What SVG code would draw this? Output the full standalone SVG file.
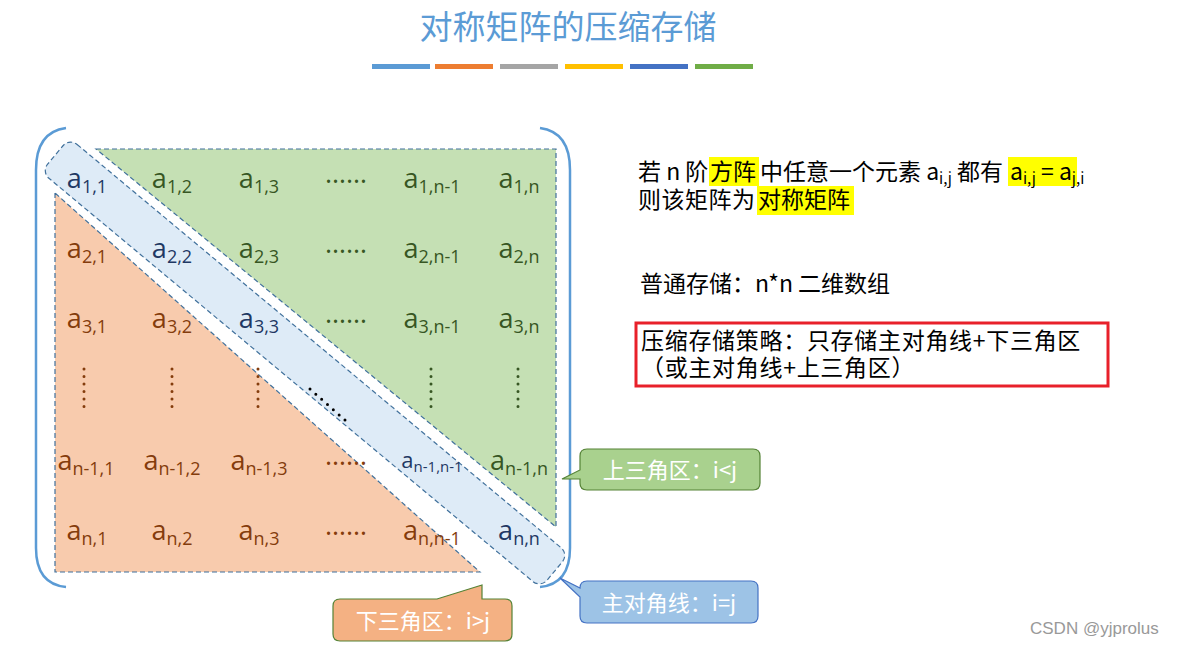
<svg xmlns="http://www.w3.org/2000/svg" width="1180" height="647" viewBox="0 0 1180 647">
<style>
.f{font-family:"Open Sans","Noto Sans","Noto Sans CJK SC",sans-serif}
.k{font-family:"Noto Sans CJK SC",sans-serif}
.m{font-size:27px;text-anchor:middle}
.g{fill:#375623}.o{fill:#843c0c}.b{fill:#1f3864}
.s{font-size:18px}
.t{font-size:23px;fill:#000}
.c{font-size:22px;fill:#fff;font-family:"Noto Sans CJK SC",sans-serif}
.dash{stroke:#41719c;stroke-width:1.2;stroke-dasharray:5 3}
</style>
<rect width="1180" height="647" fill="#fff"/>
<text x="568" y="39" class="k" font-size="33" fill="#5b9bd5" text-anchor="middle">对称矩阵的压缩存储</text>
<g id="bars">
<rect x="372" y="64" width="58" height="5" fill="#5b9bd5"/><rect x="435" y="64" width="58" height="5" fill="#ed7d31"/><rect x="500" y="64" width="58" height="5" fill="#a5a5a5"/><rect x="565" y="64" width="58" height="5" fill="#ffc000"/><rect x="630" y="64" width="58" height="5" fill="#4472c4"/><rect x="695" y="64" width="58" height="5" fill="#70ad47"/>
</g>
<g id="upper"><polygon points="96,149 556,149 556,527" fill="#c5e0b4" class="dash"/></g>
<g id="lower"><polygon points="55,193 55,572 480,572" fill="#f8cbad" class="dash"/></g>
<g id="diag"><rect x="-325" y="-22" width="650" height="44" rx="10" transform="translate(305,363) rotate(39.8)" fill="#deebf7" class="dash"/></g>
<g id="brackets" fill="none" stroke="#5b9bd5" stroke-width="2.5">
<path d="M66,128 Q36,132 36,170 L36,548 Q36,584 66,587"/>
<path d="M540,128 Q570,132 570,170 L570,548 Q570,584 540,587"/>
</g>
<g id="cells" class="f">
<text x="87" y="188" class="m b">a<tspan class="s" dy="5">1,1</tspan></text>
<text x="172" y="188" class="m g">a<tspan class="s" dy="5">1,2</tspan></text>
<text x="259" y="188" class="m g">a<tspan class="s" dy="5">1,3</tspan></text>
<text x="346" y="183" class="m g" font-size="22">……</text>
<text x="432" y="188" class="m g">a<tspan class="s" dy="5">1,n-1</tspan></text>
<text x="519" y="188" class="m g">a<tspan class="s" dy="5">1,n</tspan></text>
<text x="87" y="258" class="m o">a<tspan class="s" dy="5">2,1</tspan></text>
<text x="172" y="258" class="m b">a<tspan class="s" dy="5">2,2</tspan></text>
<text x="259" y="258" class="m g">a<tspan class="s" dy="5">2,3</tspan></text>
<text x="346" y="253" class="m g" font-size="22">……</text>
<text x="432" y="258" class="m g">a<tspan class="s" dy="5">2,n-1</tspan></text>
<text x="519" y="258" class="m g">a<tspan class="s" dy="5">2,n</tspan></text>
<text x="87" y="328" class="m o">a<tspan class="s" dy="5">3,1</tspan></text>
<text x="172" y="328" class="m o">a<tspan class="s" dy="5">3,2</tspan></text>
<text x="259" y="328" class="m b">a<tspan class="s" dy="5">3,3</tspan></text>
<text x="346" y="323" class="m g" font-size="22">……</text>
<text x="432" y="328" class="m g">a<tspan class="s" dy="5">3,n-1</tspan></text>
<text x="519" y="328" class="m g">a<tspan class="s" dy="5">3,n</tspan></text>
<text x="86" y="470" class="m o">a<tspan class="s" dy="5">n-1,1</tspan></text>
<text x="172" y="470" class="m o">a<tspan class="s" dy="5">n-1,2</tspan></text>
<text x="259" y="470" class="m o">a<tspan class="s" dy="5">n-1,3</tspan></text>
<text x="346" y="465" class="m o" font-size="22">……</text>
<text x="432" y="468" class="b" font-size="22" text-anchor="middle">a<tspan font-size="15" dy="4">n-1,n-1</tspan></text>
<text x="519" y="470" class="m g">a<tspan class="s" dy="5">n-1,n</tspan></text>
<text x="87" y="540" class="m o">a<tspan class="s" dy="5">n,1</tspan></text>
<text x="172" y="540" class="m o">a<tspan class="s" dy="5">n,2</tspan></text>
<text x="259" y="540" class="m o">a<tspan class="s" dy="5">n,3</tspan></text>
<text x="346" y="535" class="m o" font-size="22">……</text>
<text x="432" y="540" class="m o">a<tspan class="s" dy="5">n,n-1</tspan></text>
<text x="519" y="540" class="m b">a<tspan class="s" dy="5">n,n</tspan></text>
</g>
<g id="vdots" stroke-width="3" stroke-linecap="round" stroke-dasharray="0 7.5">
<line x1="84" y1="369" x2="84" y2="410" stroke="#843c0c"/>
<line x1="172" y1="369" x2="172" y2="410" stroke="#843c0c"/>
<line x1="258" y1="369" x2="258" y2="410" stroke="#843c0c"/>
<line x1="431" y1="369" x2="431" y2="410" stroke="#375623"/>
<line x1="518" y1="369" x2="518" y2="410" stroke="#375623"/>
<line x1="310" y1="389" x2="346" y2="421" stroke="#000" stroke-dasharray="0 7.8"/>
</g>
<g id="text-right" class="k t">
<rect x="709" y="157" width="50" height="29" fill="#ffff00"/>
<rect x="1008" y="157" width="69" height="29" fill="#ffff00"/>
<rect x="757" y="186" width="97" height="29" fill="#ffff00"/>
<text x="638" y="180">若 n 阶</text>
<text x="710" y="180">方阵</text>
<text x="760" y="180">中任意一个元素 a<tspan font-size="15" dy="4">i,j</tspan><tspan dy="-4"> 都有</tspan></text>
<text x="1010" y="180">a<tspan font-size="15" dy="4">i,j</tspan><tspan dy="-4"> = a</tspan><tspan font-size="15" dy="4">j,i</tspan></text>
<text x="638" y="208" letter-spacing="0.5">则该矩阵为</text>
<text x="758" y="208">对称矩阵</text>
<text x="640" y="292">普通存储：n*n 二维数组</text>
<rect x="636" y="323" width="472" height="63" fill="none" stroke="#e8202a" stroke-width="3"/>
<text x="641" y="349" letter-spacing="0.7">压缩存储策略：只存储主对角线+下三角区</text>
<text x="641" y="376" letter-spacing="0.7">（或主对角线+上三角区）</text>
</g>
<g id="callout-upper">
<path d="M587,449 H753 Q760,449 760,456 V483 Q760,490 753,490 H587 Q580,490 580,483 V479 L562,479 L580,470 V456 Q580,449 587,449 Z" fill="#a9d18e" stroke="#548235" stroke-width="1.2"/>
<text x="670" y="478" class="c" text-anchor="middle">上三角区：i&lt;j</text>
</g>
<g id="callout-diag">
<path d="M587,581 H751 Q758,581 758,588 V616 Q758,623 751,623 H587 Q580,623 580,616 V597 L560,578 L580,588 Q580,581 587,581 Z" fill="#9dc3e6" stroke="#4472c4" stroke-width="1.2"/>
<text x="669" y="611" class="c" text-anchor="middle">主对角线：i=j</text>
</g>
<g id="callout-lower">
<path d="M340,599 H437 L482,585 V599 H505 Q512,599 512,606 V634 Q512,641 505,641 H340 Q333,641 333,634 V606 Q333,599 340,599 Z" fill="#f4b183" stroke="#548235" stroke-width="1.2"/>
<text x="423" y="629" class="c" text-anchor="middle">下三角区：i&gt;j</text>
</g>
<text x="1030" y="634" font-family="Liberation Sans,sans-serif" font-size="17" fill="#999">CSDN @yjprolus</text>
</svg>
